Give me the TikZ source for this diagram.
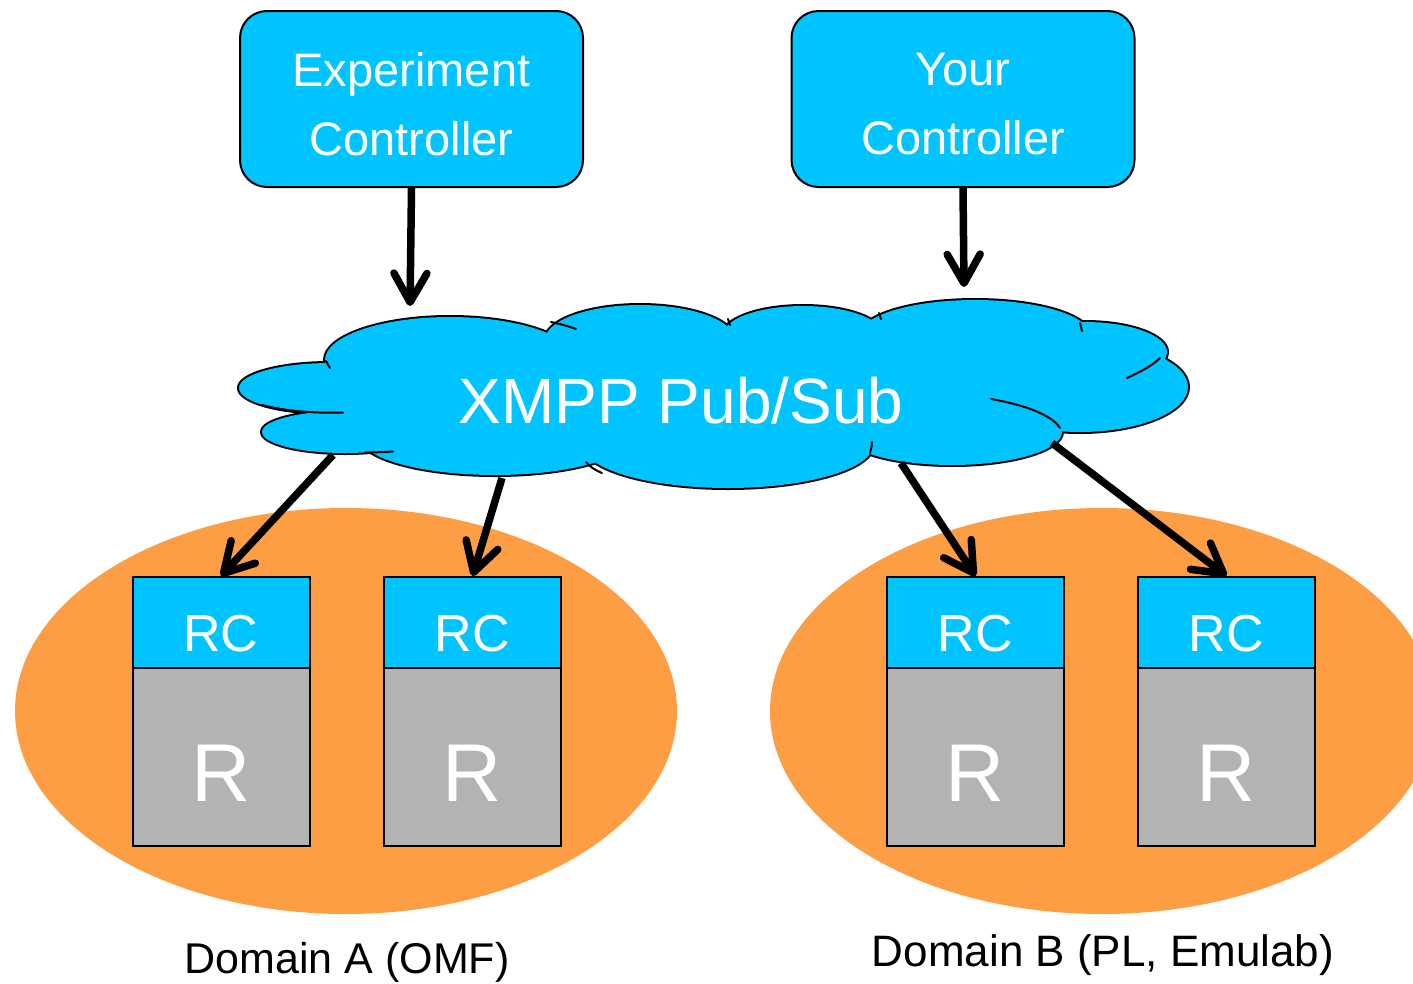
\documentclass[tikz,border=0pt]{standalone}
\usepackage{fontspec}
\setmainfont{Liberation Sans}
\usetikzlibrary{arrows.meta}
\definecolor{skyblue}{RGB}{0,196,255}
\definecolor{domorange}{RGB}{253,158,68}
\definecolor{resgray}{RGB}{179,179,179}
\tikzset{
  ctrlbox/.style={draw=black, line width=2pt, fill=skyblue, rounded corners=27pt,
    minimum width=343pt, minimum height=176pt, inner sep=0pt},
  ctrltext/.style={align=center, text=white, inner sep=0pt,
    font=\fontsize{47}{69}\selectfont},
  % text height pads the caps so that they sit a little below the box centre
  rcbox/.style={draw=black, line width=2pt, fill=skyblue, minimum width=177pt,
    minimum height=91pt, inner sep=0pt, text=white, font=\fontsize{52}{60}\selectfont,
    text height=57pt, text depth=0pt},
  resbox/.style={draw=black, line width=2pt, fill=resgray, minimum width=177pt,
    minimum height=178pt, inner sep=0pt, text=white, font=\fontsize{82}{90}\selectfont,
    text height=89pt, text depth=0pt},
  flow/.style={line width=7.5pt, -{Straight Barb[length=29pt,width=33pt,round]}},
  puffline/.style={line width=2pt, line cap=round},
  domlabel/.style={text=black},
}
\begin{document}
\begin{tikzpicture}[x=1pt,y=-1pt]
\useasboundingbox (0,0) rectangle (1413,983);
\fill[white] (0,0) rectangle (1413,983);

% administrative domains
\fill[domorange] (346,711) ellipse [x radius=331pt, y radius=203pt];
\fill[domorange] (1102,711) ellipse [x radius=332pt, y radius=203pt];
\node[domlabel, font=\fontsize{43}{50}\selectfont] (domA) at (347,962) {Domain A (OMF)};
\node[domlabel, font=\fontsize{44}{50}\selectfont] (domB) at (1103,955) {Domain B (PL, Emulab)};

% resource controllers and resources
\foreach \n/\cx in {1/221, 2/472.5, 3/975.5, 4/1226.5} {
  \node[rcbox]  (rc\n) at (\cx,622.5) {RC};
  \node[resbox] (r\n)  at (\cx,757)   {R};
}

% controllers
\node[ctrlbox] (exp)  at (411.5,99) {};
\node[ctrlbox] (your) at (963,99)   {};
\node[ctrltext] (exptext)  at ([yshift=-5pt]exp.center)  {Experiment\\Controller};
\node[ctrltext] (yourtext) at ([yshift=-5pt]your.center) {Your\\Controller};

% message bus cloud: outline from the strokes of all puffs, then the fill on top
\def\puffs{
  (330,388) ellipse [x radius=91pt, y radius=25pt]
  (345,432) ellipse [x radius=83pt, y radius=21pt]
  (495,437) ellipse [x radius=135pt, y radius=38pt]
  (728,445) ellipse [x radius=145pt, y radius=43pt]
  (952,432) ellipse [x radius=110pt, y radius=33pt]
  (1080,387) ellipse [x radius=108pt, y radius=45pt]
  (1085,352) ellipse [x radius=82pt, y radius=30pt]
  (975,335) ellipse [x radius=115pt, y radius=35pt]
  (803,335) ellipse [x radius=80pt, y radius=29pt]
  (640,340) ellipse [x radius=95pt, y radius=35pt]
  (450,360) ellipse [x radius=125pt, y radius=43pt]
}
\draw[black, line width=4pt] \puffs;
\fill[skyblue] \puffs
  (715,395) ellipse [x radius=360pt, y radius=60pt]
  (390,410) ellipse [x radius=55pt, y radius=12pt];
% inner puff edges
\draw[puffline] (262,405) .. controls (285,411) and (315,413.5) .. (343,412.5);
\draw[puffline] (365,452.5) .. controls (375,452.5) and (385,452) .. (393,451.5);
\draw[puffline] (586,462) .. controls (590,467) and (595,470) .. (602,473);
\draw[puffline] (870,453) .. controls (871,449) and (872,446) .. (872,442);
\draw[puffline] (991,399) .. controls (1025,405) and (1052,415) .. (1060,428);
\draw[puffline] (1127,378) .. controls (1140,372) and (1152,366) .. (1160,358);
\draw[puffline] (1080,323) -- (1082,331);
\draw[puffline] (879,313) -- (881,319);
\draw[puffline] (728,319) -- (730,325);
\draw[puffline] (551,322) .. controls (560,324) and (568,326) .. (576,329);
\draw[puffline] (326,361) -- (330,368);
\node[text=white, font=\fontsize{64}{70}\selectfont] (bus) at (681,401) {XMPP Pub/Sub};

% attachment points on the cloud
\coordinate (busin1) at (410,306);
\coordinate (busin2) at (964,287);
\coordinate (busout1) at (333,455);
\coordinate (busout2) at (502,478);
\coordinate (busout3) at (901,463);
\coordinate (busout4) at (1052,443);

% message flow
\draw[flow] (exp.south) -- (busin1);
\draw[flow] (your.south) -- (busin2);
\draw[flow] (busout1) -- (rc1.north);
\draw[flow] (busout2) -- (rc2.north);
\draw[flow] (busout3) -- (rc3.north);
\draw[flow] (busout4) -- (rc4.north);
\end{tikzpicture}
\end{document}
